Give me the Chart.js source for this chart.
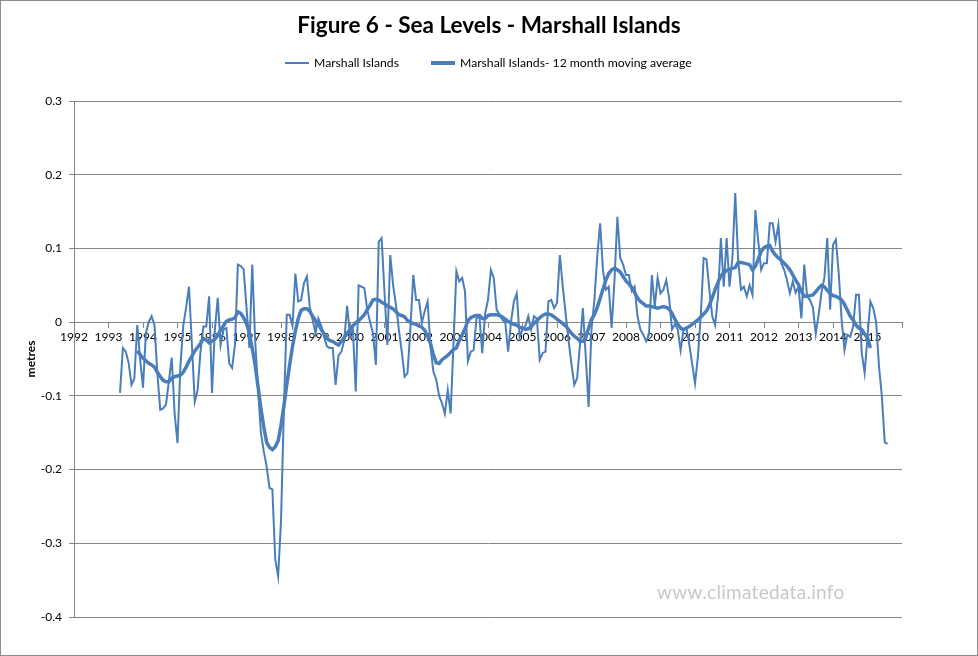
<!DOCTYPE html>
<html>
<head>
<meta charset="utf-8">
<title>Figure 6 - Sea Levels - Marshall Islands</title>
<script src="https://cdn.jsdelivr.net/npm/chart.js@4.4.0/dist/chart.umd.min.js"></script>
<style>
  html, body { margin: 0; padding: 0; background: #fff; }
  #wrap { position: relative; width: 978px; height: 656px; font-family: Lato, "Open Sans", sans-serif; }
  #chart { position: absolute; left: 0; top: 0; }
  #frame { position: absolute; left: 0; top: 0; width: 976px; height: 654px; border: 1px solid #8c8c8c; pointer-events: none; }
  #title { position: absolute; left: 0; width: 978px; top: 11px; text-align: center; font-weight: bold; font-size: 22.5px; color: #000; }
  .leg { position: absolute; top: 55px; font-size: 12.2px; color: #000; white-space: nowrap; }
  .swatch { position: absolute; background: #4a7ebb; width: 24px; }
  #mark { position: absolute; left: 657px; top: 580px; font-size: 19px; color: #c8c8c8; letter-spacing: 0.3px; }
</style>
</head>
<body>
<div id="wrap">
  <canvas id="chart" width="978" height="656"></canvas>
  <div id="title">Figure 6 - Sea Levels - Marshall Islands</div>
  <div class="swatch" style="left:285px; top:62px; height:2px;"></div>
  <div class="leg" style="left:314px;">Marshall Islands</div>
  <div class="swatch" style="left:431px; top:61px; height:4px;"></div>
  <div class="leg" style="left:460px;">Marshall Islands- 12 month moving average</div>
  <div id="mark">www.climatedata.info</div>
  <div id="frame"></div>
</div>
<script>
// monthly sea level (metres), first value May 1993
const seaStart = 1993 + 4 / 12;
const seaLevel = [
  -0.096, -0.035, -0.040, -0.055, -0.085, -0.076, -0.004, -0.050, -0.089, -0.015, 0.000, 0.008,
  -0.004, -0.070, -0.119, -0.117, -0.112, -0.080, -0.048, -0.124, -0.164, -0.060, -0.005, 0.020,
  0.048, -0.030, -0.108, -0.092, -0.040, -0.006, -0.006, 0.035, -0.096, -0.010, 0.033, -0.031,
  -0.010, -0.008, -0.056, -0.062, -0.030, 0.078, 0.076, 0.072, 0.020, -0.035, 0.078, -0.024,
  -0.090, -0.150, -0.175, -0.196, -0.225, -0.227, -0.322, -0.345, -0.270, -0.120, 0.010, 0.010,
  -0.005, 0.066, 0.028, 0.030, 0.053, 0.062, 0.021, 0.003, -0.015, 0.005, -0.005, -0.020,
  -0.033, -0.035, -0.035, -0.085, -0.045, -0.040, -0.025, 0.022, -0.017, -0.010, -0.094, 0.050,
  0.048, 0.046, 0.017, 0.000, -0.015, -0.058, 0.109, 0.114, 0.040, -0.031, 0.091, 0.050,
  0.023, -0.010, -0.040, -0.074, -0.069, -0.010, 0.064, 0.030, 0.030, -0.001, 0.015, 0.028,
  -0.033, -0.067, -0.078, -0.100, -0.110, -0.124, -0.092, -0.124, -0.030, 0.069, 0.055, 0.060,
  0.042, -0.053, -0.040, -0.038, 0.005, 0.008, -0.042, 0.012, 0.030, 0.071, 0.060, 0.017,
  0.010, 0.003, 0.000, -0.040, 0.000, 0.028, 0.039, -0.020, -0.010, -0.005, 0.008, -0.010,
  0.008, 0.005, -0.051, -0.042, -0.040, 0.028, 0.030, 0.019, 0.026, 0.091, 0.048, 0.012,
  -0.024, -0.056, -0.085, -0.076, -0.030, 0.019, -0.047, -0.115, -0.010, 0.030, 0.089, 0.134,
  0.070, 0.044, 0.048, -0.008, 0.057, 0.143, 0.087, 0.078, 0.064, 0.064, 0.042, 0.048,
  0.008, -0.010, -0.017, -0.026, -0.017, 0.064, 0.021, 0.060, 0.039, 0.044, 0.057, 0.033,
  -0.010, -0.003, -0.010, -0.038, -0.010, -0.008, -0.030, -0.056, -0.083, -0.047, 0.008, 0.087,
  0.085, 0.044, 0.008, -0.004, 0.035, 0.114, 0.048, 0.114, 0.048, 0.087, 0.175, 0.085,
  0.044, 0.048, 0.035, 0.050, 0.037, 0.152, 0.110, 0.071, 0.080, 0.080, 0.134, 0.134,
  0.109, 0.132, 0.080, 0.071, 0.057, 0.039, 0.055, 0.040, 0.048, 0.005, 0.078, 0.035,
  0.030, 0.020, -0.016, 0.010, 0.040, 0.060, 0.114, 0.017, 0.105, 0.112, 0.066, 0.003,
  -0.038, -0.017, -0.020, -0.006, 0.037, 0.037, -0.042, -0.069, -0.020, 0.028, 0.019, 0.000,
  -0.060, -0.101, -0.163, -0.165
];

// centred 12 month moving average, first value Nov 1993
const avgStart = 1993 + 10 / 12;
const movingAvg = [
  -0.039, -0.044, -0.049, -0.052, -0.056, -0.058, -0.061, -0.068, -0.074, -0.079, -0.081, -0.081,
  -0.076, -0.074, -0.073, -0.072, -0.068, -0.061, -0.053, -0.046, -0.039, -0.034, -0.029, -0.022,
  -0.024, -0.028, -0.026, -0.023, -0.018, -0.011, -0.005, 0.001, 0.003, 0.004, 0.006, 0.014,
  0.012, 0.006, -0.002, -0.015, -0.036, -0.058, -0.087, -0.117, -0.142, -0.163, -0.170, -0.173,
  -0.169, -0.161, -0.140, -0.114, -0.085, -0.058, -0.033, -0.012, 0.005, 0.016, 0.018, 0.018,
  0.015, 0.008, 0.002, -0.002, -0.010, -0.016, -0.022, -0.025, -0.026, -0.029, -0.031, -0.026,
  -0.021, -0.015, -0.010, -0.005, -0.001, 0.002, 0.006, 0.010, 0.017, 0.023, 0.030, 0.031,
  0.030, 0.027, 0.025, 0.022, 0.020, 0.018, 0.014, 0.010, 0.009, 0.007, 0.002, 0.000,
  -0.002, -0.003, -0.005, -0.007, -0.011, -0.019, -0.029, -0.044, -0.055, -0.056, -0.051, -0.048,
  -0.045, -0.041, -0.037, -0.035, -0.025, -0.017, -0.009, 0.002, 0.006, 0.008, 0.009, 0.009,
  0.005, 0.005, 0.009, 0.010, 0.010, 0.010, 0.009, 0.007, 0.004, 0.001, -0.001, -0.003,
  -0.004, -0.007, -0.008, -0.010, -0.009, -0.006, -0.002, 0.002, 0.006, 0.009, 0.011, 0.011,
  0.010, 0.007, 0.004, 0.001, -0.002, -0.005, -0.010, -0.015, -0.019, -0.022, -0.026, -0.026,
  -0.021, -0.008, 0.004, 0.010, 0.020, 0.032, 0.045, 0.057, 0.066, 0.071, 0.073, 0.071,
  0.068, 0.062, 0.056, 0.052, 0.047, 0.040, 0.033, 0.028, 0.025, 0.022, 0.022, 0.021,
  0.020, 0.019, 0.020, 0.021, 0.020, 0.018, 0.012, 0.004, -0.003, -0.008, -0.010, -0.008,
  -0.006, -0.003, 0.000, 0.003, 0.007, 0.011, 0.015, 0.023, 0.033, 0.044, 0.054, 0.063,
  0.067, 0.070, 0.072, 0.073, 0.074, 0.081, 0.081, 0.080, 0.079, 0.078, 0.071, 0.076,
  0.085, 0.096, 0.101, 0.103, 0.104, 0.096, 0.091, 0.087, 0.084, 0.080, 0.076, 0.071,
  0.064, 0.057, 0.051, 0.042, 0.035, 0.035, 0.036, 0.037, 0.041, 0.046, 0.050, 0.048,
  0.043, 0.039, 0.036, 0.035, 0.033, 0.030, 0.024, 0.016, 0.008, 0.003, -0.004, -0.008,
  -0.010, -0.016, -0.021, -0.035
];

// axis range
const firstYear = 1992;
const lastYear = 2016;
const yMin = -0.4;
const yMax = 0.3;

const lineBlue = '#4a7ebb';
const gridGrey = '#868686';

function toPoints(start, values) {
  return values.map((v, i) => ({ x: start + i / 12, y: v }));
}

new Chart(document.getElementById('chart'), {
  type: 'line',
  data: {
    datasets: [
      {
        label: 'Marshall Islands',
        data: toPoints(seaStart, seaLevel),
        borderColor: lineBlue,
        borderWidth: 2,
        pointRadius: 0,
        tension: 0,
        fill: false
      },
      {
        label: 'Marshall Islands- 12 month moving average',
        data: toPoints(avgStart, movingAvg),
        borderColor: lineBlue,
        borderWidth: 3.5,
        pointRadius: 0,
        tension: 0,
        fill: false
      }
    ]
  },
  options: {
    responsive: false,
    animation: false,
    devicePixelRatio: 1,
    layout: { padding: { left: 10, right: 76, top: 101, bottom: 39 } },
    plugins: {
      legend: { display: false },
      title: { display: false },
      tooltip: { enabled: false }
    },
    scales: {
      x: {
        type: 'linear',
        min: firstYear,
        max: lastYear,
        position: { y: 0 },
        border: { color: gridGrey, width: 1 },
        grid: { drawOnChartArea: false, drawTicks: true, tickLength: 5, color: gridGrey },
        ticks: {
          stepSize: 1,
          autoSkip: false,
          maxRotation: 0,
          padding: 3,
          color: '#000',
          font: { family: 'Lato', size: 12 },
          callback: (v) => (v < lastYear ? String(v) : '')
        }
      },
      y: {
        min: yMin,
        max: yMax,
        border: { color: gridGrey, width: 1 },
        grid: { color: gridGrey, tickLength: 5 },
        afterFit: (scale) => { scale.width = 64; },
        title: {
          display: true,
          text: 'metres',
          color: '#000',
          font: { family: 'Lato', size: 12, weight: 'bold' },
          padding: { top: 14, bottom: 0 }
        },
        ticks: {
          stepSize: 0.1,
          padding: 7,
          color: '#000',
          font: { family: 'Lato', size: 12 },
          callback: (v) => String(Number(v.toFixed(1)))
        }
      }
    }
  }
});
</script>
</body>
</html>
